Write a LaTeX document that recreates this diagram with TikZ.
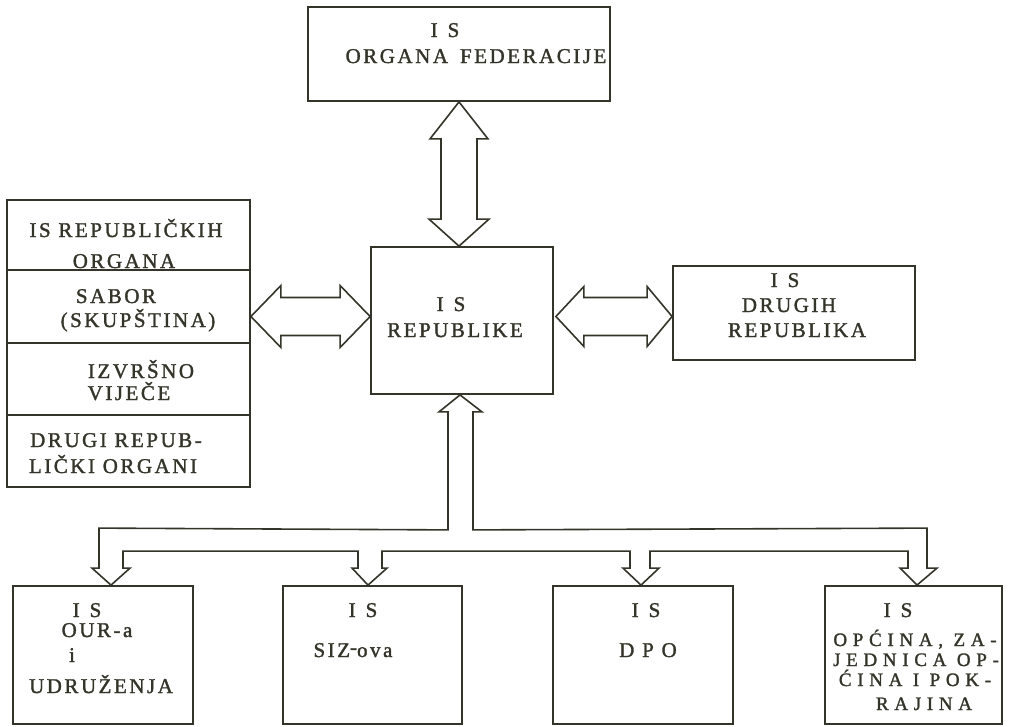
\documentclass[tikz,border=0pt]{standalone}
\usepackage{fontspec}
\setmainfont{Liberation Serif}[LetterSpace=12,FakeBold=1.5]
\usetikzlibrary{calc}
\definecolor{ink}{RGB}{52,52,42}
\newcommand\isab{I\hspace{10pt}S}
\begin{document}
\begin{tikzpicture}[x=1pt,y=-1pt,
  box/.style={draw=ink,line width=1.8pt,rectangle,inner sep=0pt},
  txt/.style={text=ink,font=\fontsize{21}{23}\selectfont,anchor=base,inner sep=0pt},
  wide/.style={txt,font=\fontsize{19}{21}\selectfont\addfontfeature{LetterSpace=30}},
  arr/.style={draw=ink,line width=1.6pt,line join=miter},
  sep/.style={draw=ink,line width=1.7pt}]
\useasboundingbox (0,0) rectangle (1009,726);
% boxes
\node[box,minimum width=302,minimum height=94] (fed) at (459,54) {};
\node[box,minimum width=182,minimum height=147] (rep) at (462,320.5) {};
\node[box,minimum width=243,minimum height=287] (stack) at (128.5,343.5) {};
\node[box,minimum width=242,minimum height=94] (drugi) at (794,313) {};
\node[box,minimum width=180,minimum height=138] (b1) at (103,655) {};
\node[box,minimum width=179,minimum height=138] (b2) at (372.5,655) {};
\node[box,minimum width=180,minimum height=138] (b3) at (643,655) {};
\node[box,minimum width=177,minimum height=138] (b4) at (913.5,655) {};
% stack dividers
\draw[sep] (stack.west |- 0,270) -- (stack.east |- 0,270);
\draw[sep] (stack.west |- 0,343) -- (stack.east |- 0,343);
\draw[sep] (stack.west |- 0,415) -- (stack.east |- 0,415);
% texts
\node[txt] (fed1) at (445,37) {\isab};
\node[txt] (fed2) at (476,63) {ORGANA\hspace{12pt}FEDERACIJE};
\node[txt] (rep1) at (451,311) {\isab};
\node[txt] (rep2) at (455,337) {REPUBLIKE};
\node[txt] (s1) at (126,237) {IS REPUBLIČKIH};
\node[txt] (s2) at (124,268) {ORGANA};
\node[txt] (s3) at (116,303) {SABOR};
\node[txt] (s4) at (138,327) {(SKUPŠTINA)};
\node[txt] (s5) at (141,378) {IZVRŠNO};
\node[txt] (s6) at (129,400) {VIJEČE};
\node[txt] (s7) at (116,447) {DRUGI REPUB-};
\node[txt] (s8) at (113,473) {LIČKI ORGANI};
\node[txt] (d1) at (785,287) {\isab};
\node[txt] (d2) at (789,312) {DRUGIH};
\node[txt] (d3) at (797,337) {REPUBLIKA};
\node[txt] (o1) at (87,617) {\isab};
\node[txt] (o2) at (97,637) {OUR-a};
\node[txt] (o3) at (72,662) {i};
\node[txt] (o4) at (101,693) {UDRUŽENJA};
\node[txt] (z1) at (363,617) {\isab};
\node[txt] (z2) at (353,657) {SIZ\raisebox{3pt}{-}ova};
\node[txt] (p1) at (646,617) {\isab};
\node[txt] (p2) at (648,657) {D P O};
\node[txt] (c1) at (898,617) {\isab};
\node[wide] (c2) at (915,646) {OPĆINA, ZA-};
\node[wide] (c3) at (916,666) {JEDNICA OP-};
\node[wide] (c4) at (915,686) {ĆINA I POK-};
\node[wide] (c5) at (924,710) {RAJINA};
% vertical double arrow
\coordinate (vt) at (fed.south);
\coordinate (vb) at (fed.south |- rep.north);
\draw[arr] (vt) -- ++(29,37) -- ++(-11,0) -- ($(vb)+(18,-27)$) -- ++(12,0) -- (vb)
  -- ++(-30,-27) -- ++(12,0) -- ($(vt)+(-18,37)$) -- ++(-11,0) -- cycle;
% left double arrow
\coordinate (hr) at ($(rep.west)+(0,-4)$);
\coordinate (hl) at (stack.east |- hr);
\draw[arr] (hl) -- ++(30,-31) -- ++(0,12) -- ($(hr)+(-30,-19)$) -- ++(0,-12) -- (hr)
  -- ++(-30,31) -- ++(0,-12) -- ($(hl)+(30,19)$) -- ++(0,12) -- cycle;
% right double arrow
\coordinate (rl) at ($(rep.east)+(2,-4)$);
\coordinate (rr) at (drugi.west |- rl);
\draw[arr] (rl) -- ++(28,-30) -- ++(0,11) -- ($(rr)+(-25,-19)$) -- ++(0,-11) -- (rr)
  -- ++(-25,30) -- ++(0,-11) -- ($(rl)+(28,19)$) -- ++(0,11) -- cycle;
% bottom bus
\coordinate (u) at ($(rep.south)+(-2,0)$);
\coordinate (t1) at ($(b1.north)+(8,0)$);
\coordinate (t2) at ($(b2.north)+(-4.5,0)$);
\coordinate (t3) at ($(b3.north)+(-2,0)$);
\coordinate (t4) at ($(b4.north)+(3.5,0)$);
\draw[arr] (u) -- ++(22,17) -- ++(-9,0) -- ($(u)+(13,135)$) -- ($(t4)+(10,-57)$)
  -- ($(t4)+(10,-17)$) -- ++(10,0) -- (t4) -- ($(t4)+(-17,-17)$) -- ++(8,0)
  -- ($(t4)+(-9,-34)$) -- ($(t3)+(9,-34)$) -- ($(t3)+(9,-17)$) -- ++(9,0) -- (t3)
  -- ($(t3)+(-18,-17)$) -- ++(7,0) -- ($(t3)+(-11,-34)$) -- ($(t2)+(14,-34)$)
  -- ($(t2)+(14,-17)$) -- ++(5,0) -- (t2) -- ($(t2)+(-16,-17)$) -- ++(6,0)
  -- ($(t2)+(-10,-34)$) -- ($(t1)+(12,-34)$) -- ($(t1)+(12,-17)$) -- ++(7,0) -- (t1)
  -- ($(t1)+(-19,-17)$) -- ++(7,0) -- ($(t1)+(-12,-57)$) -- ($(u)+(-12,135)$)
  -- ($(u)+(-12,17)$) -- ++(-9,0) -- cycle;
\end{tikzpicture}
\end{document}
